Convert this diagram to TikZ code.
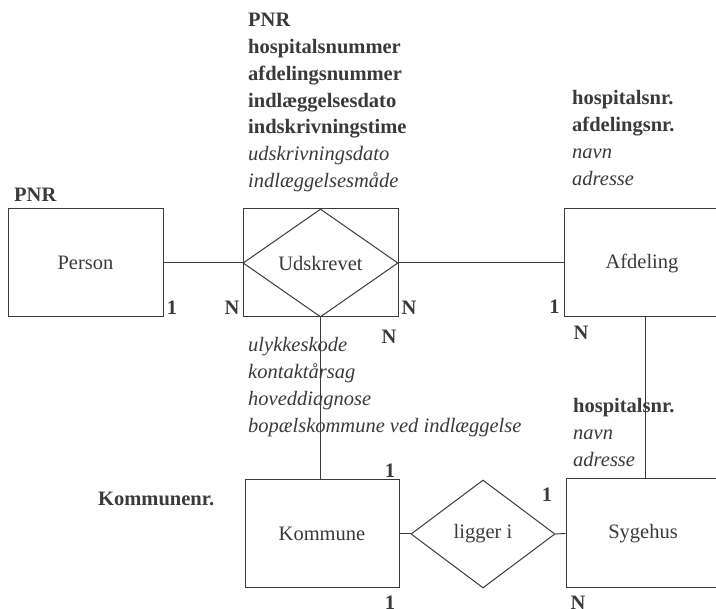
\documentclass[tikz,border=0pt]{standalone}
\usepackage{fontspec}
\setmainfont{Liberation Serif}
\usetikzlibrary{shapes.geometric}
\definecolor{ink}{HTML}{3A3A3A}
\newcommand{\erfont}{\fontsize{20.5}{26.7}\selectfont}
\tikzset{
  ent/.style={draw=ink, line width=1pt, rectangle, inner sep=0pt, minimum width=155pt, minimum height=108pt, text=ink},
  rel/.style={draw=ink, line width=1pt, diamond, inner sep=0pt, text=ink},
  conn/.style={draw=ink, line width=1pt},
  attr/.style={anchor=base west, inner sep=0pt, text=ink},
  card/.style={anchor=center, inner sep=0pt, text=ink, font=\erfont\bfseries},
}
\begin{document}
\begin{tikzpicture}[x=1pt,y=-1pt,font=\erfont]
\useasboundingbox (0,0) rectangle (716,609);
\clip (0,0) rectangle (716,609);
% entities
\node[ent] (person) at (85.5,263) {Person};
\node[ent] (udbox) at (320.5,263) {};
\node[rel, minimum width=155pt, minimum height=108pt] (udsk) at (320.5,263) {Udskrevet};
\node[ent, minimum width=162pt] (afd) at (645,263) {\hspace*{-6pt}Afdeling};
\node[ent, minimum width=154pt] (komm) at (322,534) {Kommune};
\node[rel, minimum width=144pt, minimum height=108pt] (ligger) at (483,534) {ligger i};
\node[ent, minimum width=158pt, minimum height=109pt] (syg) at (645,533.5) {\hspace*{-4pt}Sygehus};
% connectors
\draw[conn] (person.east) -- (udsk.west);
\draw[conn] (udsk.east) -- (afd.west);
\draw[conn] (udsk.south) -- (udsk.south |- komm.north);
\draw[conn] (afd.south) -- (syg.north);
\draw[conn] (komm.east) -- (ligger.west);
\draw[conn] (ligger.east) -- (syg.west);
% attributes of Udskrevet (top)
\node[attr] (ua1) at (248,27) {\textbf{PNR}};
\node[attr] (ua2) at (248,53.7) {\textbf{hospitalsnummer}};
\node[attr] (ua3) at (248,80.4) {\textbf{afdelingsnummer}};
\node[attr] (ua4) at (248,107.1) {\textbf{indlæggelsesdato}};
\node[attr] (ua5) at (248,133.8) {\textbf{indskrivningstime}};
\node[attr] (ua6) at (248,160.5) {\textit{udskrivningsdato}};
\node[attr] (ua7) at (248,187.2) {\textit{indlæggelsesmåde}};
% attributes of Udskrevet (below)
\node[attr] (ub1) at (248,352) {\textit{ulykkeskode}};
\node[attr] (ub2) at (248,378.7) {\textit{kontaktårsag}};
\node[attr] (ub3) at (248,405.4) {\textit{hoveddiagnose}};
\node[attr] (ub4) at (248,432.1) {\textit{bopælskommune ved indlæggelse}};
% attributes of Afdeling
\node[attr] (aa1) at (572,105) {\textbf{hospitalsnr.}};
\node[attr] (aa2) at (572,131.7) {\textbf{afdelingsnr.}};
\node[attr] (aa3) at (572,158.4) {\textit{navn}};
\node[attr] (aa4) at (572,185.1) {\textit{adresse}};
% attributes of Sygehus
\node[attr] (sa1) at (573,413) {\textbf{hospitalsnr.}};
\node[attr] (sa2) at (573,439.7) {\textit{navn}};
\node[attr] (sa3) at (573,466.4) {\textit{adresse}};
% key attributes
\node[attr] (pa1) at (14,202) {\textbf{PNR}};
\node[attr] (ka1) at (98,506) {\textbf{Kommunenr.}};
% cardinalities
\node[card] (c1) at (172,308) {1};
\node[card] (c2) at (232,308) {N};
\node[card] (c3) at (409,308) {N};
\node[card] (c4) at (389,337) {N};
\node[card] (c5) at (554.5,307) {1};
\node[card] (c6) at (581,333) {N};
\node[card] (c7) at (390,471) {1};
\node[card] (c8) at (390,603) {1};
\node[card] (c9) at (547,495) {1};
\node[card] (c10) at (578,603) {N};
\end{tikzpicture}
\end{document}
